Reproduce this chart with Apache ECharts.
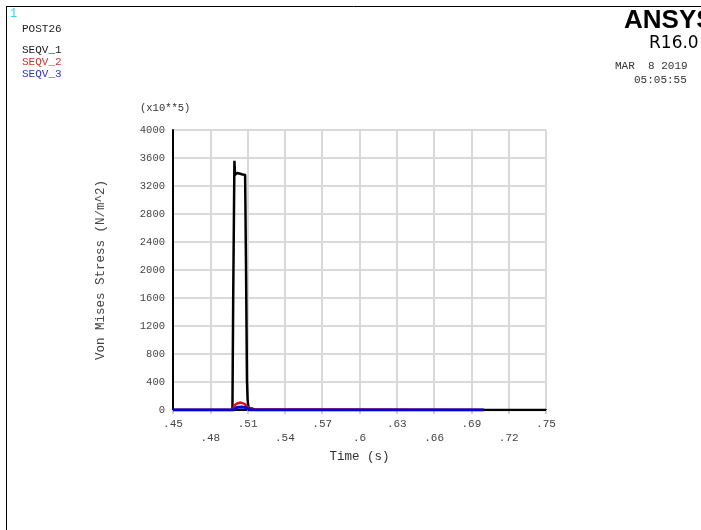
<!DOCTYPE html>
<html>
<head>
<meta charset="utf-8">
<script src="https://cdn.jsdelivr.net/npm/echarts@6/dist/echarts.min.js"></script>
<style>
  html, body { margin: 0; padding: 0; background: #fff; }
  #chart { width: 701px; height: 530px; }
</style>
</head>
<body>
<div id="chart"></div>
<script>
// Time history of von Mises stress (units of 1e5 N/m^2)
var seqv1Time = [0.45, 0.4978, 0.4983, 0.4984, 0.4991, 0.4994, 0.4999, 0.5008, 0.5016, 0.5023, 0.5030, 0.5040, 0.5060, 0.5080, 0.5086, 0.5087, 0.5094, 0.5095, 0.5100, 0.5104, 0.5110,
                 0.5120, 0.5125, 0.5135, 0.5140,
                 0.5160, 0.5165, 0.5175, 0.5180,
                 0.5200, 0.5205, 0.5215, 0.5220,
                 0.5240, 0.5245, 0.5255, 0.5260,
                 0.5285, 0.5290, 0.5300, 0.5305,
                 0.5330, 0.5335, 0.5345, 0.5350,
                 0.5375, 0.5380, 0.5390, 0.5395,
                 0.5420, 0.5425, 0.5435, 0.5440,
                 0.75];
var seqv1Value = [0, 0, 0, 1560, 1560, 3561, 3360, 3370, 3385, 3404, 3395, 3375, 3365, 3360, 3360, 2100, 2100, 420, 150, 70, 25,
                  0, 22, 22, 0,
                  0, 22, 22, 0,
                  0, 20, 20, 0,
                  0, 20, 20, 0,
                  0, 20, 20, 0,
                  0, 18, 18, 0,
                  0, 18, 18, 0,
                  0, 18, 18, 0,
                  0];

var seqv2Time = [0.45, 0.4985, 0.4991, 0.5000, 0.5015, 0.5030, 0.5045, 0.5060, 0.5075, 0.5090, 0.5100, 0.5108, 0.5120, 0.70];
var seqv2Value = [0, 0, 60, 80, 92, 102, 106, 100, 88, 78, 45, 12, 0, 0];

var seqv3Time = [0.45, 0.4988, 0.4995, 0.5010, 0.5030, 0.5050, 0.5070, 0.5090, 0.5105, 0.5115, 0.70];
var seqv3Value = [0, 0, 25, 35, 40, 42, 38, 32, 15, 0, 0];

var xTickLabels = ['.45', '.48', '.51', '.54', '.57', '.6', '.63', '.66', '.69', '.72', '.75'];
var yTickLabels = ['0', '400', '800', '1200', '1600', '2000', '2400', '2800', '3200', '3600', '4000'];

var seriesNames = ['SEQV_1', 'SEQV_2', 'SEQV_3'];
var seriesColors = ['#000000', '#e01010', '#0000e6'];
var seriesWidths = [2.5, 2.5, 3];

function pairs(t, v) {
  return t.map(function (x, i) { return [x, v[i]]; });
}

var mono = '"Liberation Mono", "DejaVu Sans Mono", monospace';

var chart = echarts.init(document.getElementById('chart'), null, { renderer: 'canvas' });

chart.setOption({
  animation: false,
  backgroundColor: '#ffffff',
  grid: { left: 173, right: 155, top: 130, bottom: 120, containLabel: false },
  xAxis: {
    type: 'value',
    min: 0.45,
    max: 0.75,
    interval: 0.03,
    name: 'Time (s)',
    nameLocation: 'middle',
    nameGap: 37,
    nameTextStyle: { fontFamily: mono, fontSize: 12.5, color: '#333' },
    axisLine: { show: true, onZero: false, lineStyle: { color: '#000', width: 2 } },
    axisTick: { show: true, length: 4, lineStyle: { color: '#d0d0d0', width: 2 } },
    splitLine: { show: true, lineStyle: { color: '#d9d9d9', width: 2 } },
    axisLabel: {
      fontFamily: mono,
      fontSize: 11,
      color: '#444',
      margin: 7,
      lineHeight: 14,
      showMinLabel: true,
      showMaxLabel: true,
      formatter: function (v) {
        var i = Math.round((v - 0.45) / 0.03);
        var s = xTickLabels[i] || '';
        return i % 2 === 1 ? '\n' + s : s;
      }
    }
  },
  yAxis: {
    type: 'value',
    min: 0,
    max: 4000,
    interval: 400,
    name: 'Von Mises Stress (N/m^2)',
    nameLocation: 'middle',
    nameGap: 66,
    nameTextStyle: { fontFamily: mono, fontSize: 12.5, color: '#444' },
    axisLine: { show: true, lineStyle: { color: '#000', width: 2 } },
    axisTick: { show: false },
    splitLine: { show: true, lineStyle: { color: '#d9d9d9', width: 2 } },
    axisLabel: {
      fontFamily: mono,
      fontSize: 10.5,
      color: '#444',
      margin: 8,
      formatter: function (v) {
        return yTickLabels[Math.round(v / 400)];
      }
    }
  },
  series: seriesNames.map(function (name, k) {
    var t = [seqv1Time, seqv2Time, seqv3Time][k];
    var v = [seqv1Value, seqv2Value, seqv3Value][k];
    return {
      name: name,
      type: 'line',
      data: pairs(t, v),
      showSymbol: false,
      symbol: 'none',
      z: 3 + k,
      lineStyle: { color: seriesColors[k], width: seriesWidths[k] },
      itemStyle: { color: seriesColors[k] }
    };
  }),
  graphic: [
    // frame lines
    { type: 'line', shape: { x1: 6, y1: 6.5, x2: 701, y2: 6.5 }, style: { stroke: '#000', lineWidth: 1 } },
    { type: 'line', shape: { x1: 6.5, y1: 6, x2: 6.5, y2: 530 }, style: { stroke: '#000', lineWidth: 1 } },
    // window number and legend
    { type: 'text', left: 10, top: 8, style: { text: '1', fill: '#30d8e8', font: '12px ' + mono } },
    { type: 'text', left: 22, top: 24, style: { text: 'POST26', fill: '#222', font: '11px ' + mono } },
    { type: 'text', left: 22, top: 45, style: { text: seriesNames[0], fill: '#222', font: '11px ' + mono } },
    { type: 'text', left: 22, top: 57, style: { text: seriesNames[1], fill: '#d83030', font: '11px ' + mono } },
    { type: 'text', left: 22, top: 69, style: { text: seriesNames[2], fill: '#3030d0', font: '11px ' + mono } },
    // product header
    { type: 'text', left: 624, top: 8, style: { text: 'ANSYS', fill: '#000', font: 'bold 26px "Liberation Sans Narrow", "Liberation Sans", Arial, sans-serif' } },
    { type: 'text', left: 649, top: 35, style: { text: 'R16.0', fill: '#000', font: '17px "DejaVu Sans", sans-serif' } },
    { type: 'text', left: 615, top: 61, style: { text: 'MAR  8 2019', fill: '#333', font: '11px ' + mono } },
    { type: 'text', left: 634, top: 75, style: { text: '05:05:55', fill: '#333', font: '11px ' + mono } },
    // axis scale factor
    { type: 'text', left: 140, top: 103, style: { text: '(x10**5)', fill: '#333', font: '10.5px ' + mono } }
  ]
});
</script>
</body>
</html>
